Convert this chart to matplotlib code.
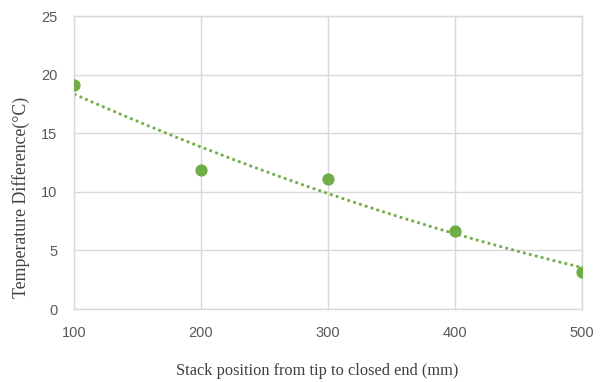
import matplotlib
matplotlib.use("Agg")
import matplotlib.pyplot as plt
import numpy as np

position_mm = [100, 200, 300, 400, 500]
temp_diff = [19.1, 11.9, 11.1, 6.7, 3.2]
x_ticks = [100, 200, 300, 400, 500]
y_ticks = [0, 5, 10, 15, 20, 25]

green = "#70ad47"
grid_col = "#d9d9d9"

fig = plt.figure(figsize=(6.03, 3.82), dpi=100)
ax = fig.add_axes([0.1227, 0.191, 0.8423, 0.767])

# order-2 polynomial trendline, as in the spreadsheet chart
coef = np.polyfit(position_mm, temp_diff, 2)
xs = np.linspace(min(position_mm), max(position_mm), 200)
ax.plot(xs, np.polyval(coef, xs), linestyle=(0, (1, 1.2)), color=green, lw=2, zorder=2)
ax.plot(position_mm, temp_diff, "o", color=green, markersize=7.8, zorder=3)

ax.set_xlim(100, 500)
ax.set_ylim(0, 25)
ax.set_xticks(x_ticks)
ax.set_yticks(y_ticks)
ax.grid(True, color=grid_col, lw=1)
ax.set_axisbelow(True)
for s in ax.spines.values():
    s.set_color(grid_col)
    s.set_linewidth(1)
ax.tick_params(length=0, colors="#595959", labelsize=10.5)
for lab in ax.get_xticklabels() + ax.get_yticklabels():
    lab.set_family("Liberation Sans")
ax.tick_params(axis="x", pad=12)
ax.tick_params(axis="y", pad=12)

ax.set_xlabel("Stack position from tip to closed end (mm)", family="Liberation Serif",
              fontsize=11.8, color="#404040")
ax.xaxis.set_label_coords(0.478, -0.183)
ax.set_ylabel("Temperature Difference(\u00b0C)", family="Liberation Serif",
              fontsize=12.8, color="#404040")
ax.yaxis.set_label_coords(-0.086, 0.38)

fig.savefig("out.png", dpi=100)
